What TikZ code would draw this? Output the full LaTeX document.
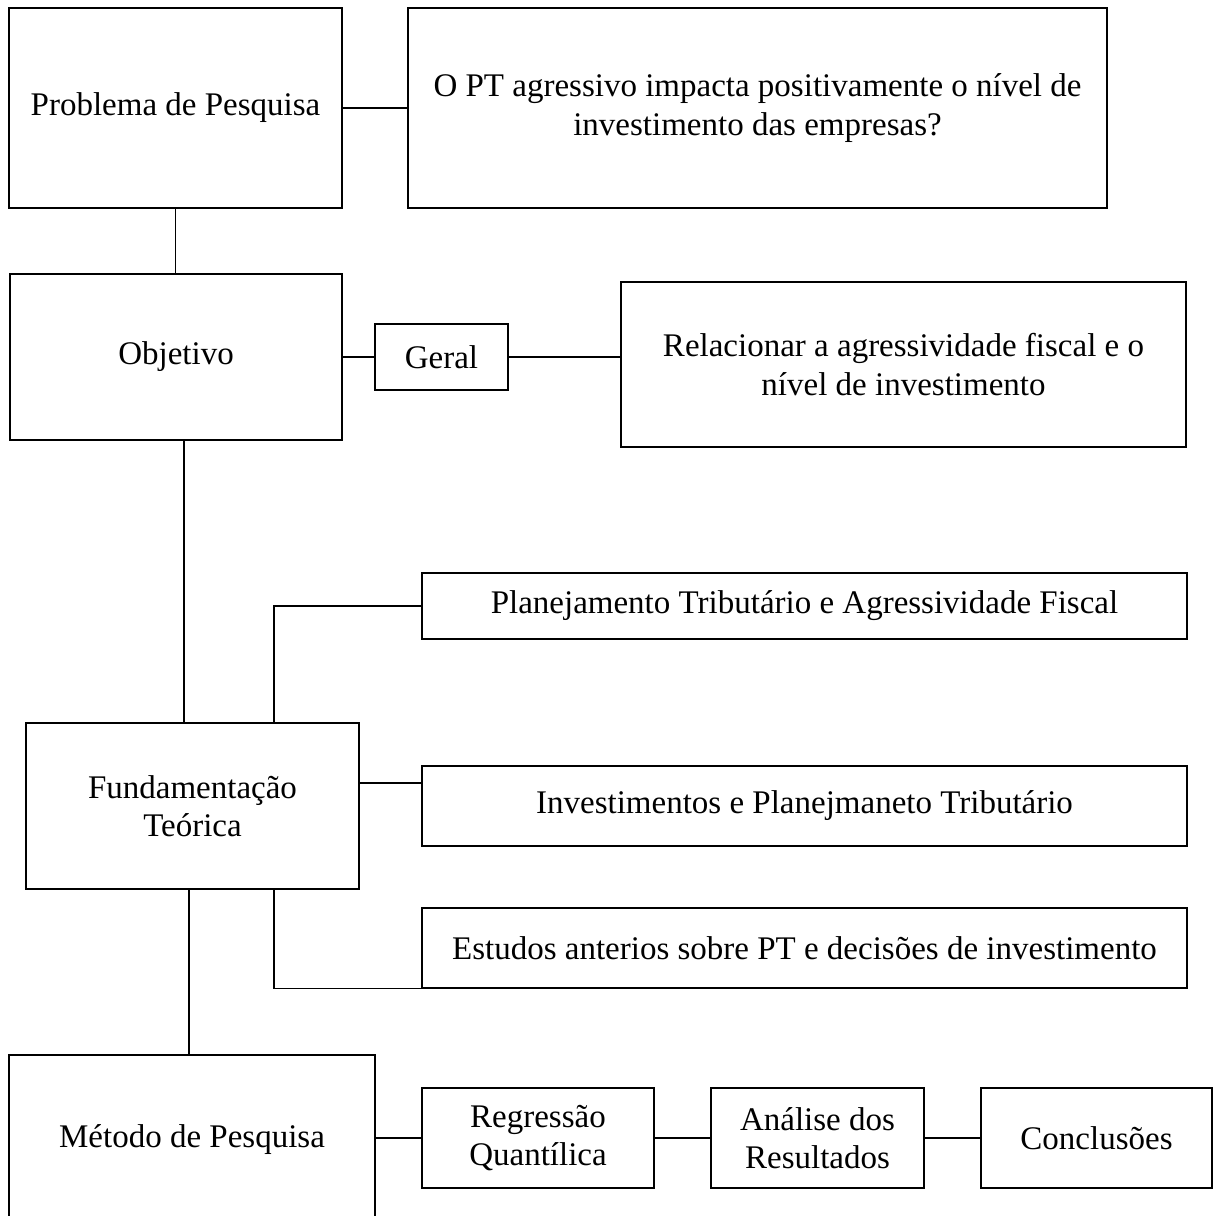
\documentclass[tikz,border=0pt]{standalone}
\usepackage{fontspec}
\setmainfont{Liberation Serif}
\begin{document}
\begin{tikzpicture}[x=1pt,y=-1pt,
  box/.style={draw=black, line width=1.4pt, align=center, inner sep=0pt,
    font=\fontsize{33}{38.5}\selectfont},
  link/.style={draw=black, line width=1.4pt}]
\useasboundingbox (0,0) rectangle (1214,1216);
\clip (0,0) rectangle (1214,1216);
\fill[white] (0,0) rectangle (1214,1216);
% nodes
\node[box, minimum width=333, minimum height=200] (prob) at (175.5,108) {Problema de Pesquisa};
\node[box, minimum width=699, minimum height=200] (quest) at (757.5,108) {O PT agressivo impacta positivamente o nível de\\investimento das empresas?};
\node[box, minimum width=332, minimum height=166] (obj) at (176,357) {Objetivo};
\node[box, minimum width=133, minimum height=66] (geral) at (441.5,357) {Geral};
\node[box, minimum width=565, minimum height=165] (rel) at (903.5,364.5) {Relacionar a agressividade fiscal e o\\nível de investimento};
\node[box, minimum width=333, minimum height=166] (fund) at (192.5,806) {Fundamentação\\Teórica};
\node[box, minimum width=765, minimum height=66] (plan) at (804.5,606) {Planejamento Tributário e Agressividade Fiscal};
\node[box, minimum width=765, minimum height=80] (inv) at (804.5,806) {Investimentos e Planejmaneto Tributário};
\node[box, minimum width=765, minimum height=80] (est) at (804.5,948) {Estudos anterios sobre PT e decisões de investimento};
\node[box, minimum width=366, minimum height=170] (met) at (192,1140) {Método de Pesquisa};
\node[box, minimum width=232, minimum height=100] (reg) at (538,1138) {Regressão\\Quantílica};
\node[box, minimum width=213, minimum height=100] (ana) at (817.5,1138) {Análise dos\\Resultados};
\node[box, minimum width=231, minimum height=100] (conc) at (1096.5,1138) {Conclusões};
% connectors
\draw[link] (prob.east) -- (quest.west);
\draw[link] (prob.south) -- (prob.south |- obj.north);
\draw[link] (obj.east) -- (geral.west);
\draw[link] (geral.east) -- (geral.east -| rel.west);
\draw[link] ([xshift=8pt]obj.south) -- ([xshift=8pt]obj.south |- fund.north);
\draw[link] ([xshift=81.5pt]fund.north) |- (plan.west);
\draw[link] ([yshift=23pt]fund.east) -- ([yshift=23pt]fund.east -| inv.west);
\draw[link] ([xshift=81.5pt]fund.south) |- (est.south west);
\draw[link] ([xshift=-3.5pt]fund.south) -- ([xshift=-3.5pt]fund.south |- met.north);
\draw[link] (reg.west) -- (reg.west -| met.east);
\draw[link] (reg.east) -- (ana.west);
\draw[link] (ana.east) -- (conc.west);
\end{tikzpicture}
\end{document}
